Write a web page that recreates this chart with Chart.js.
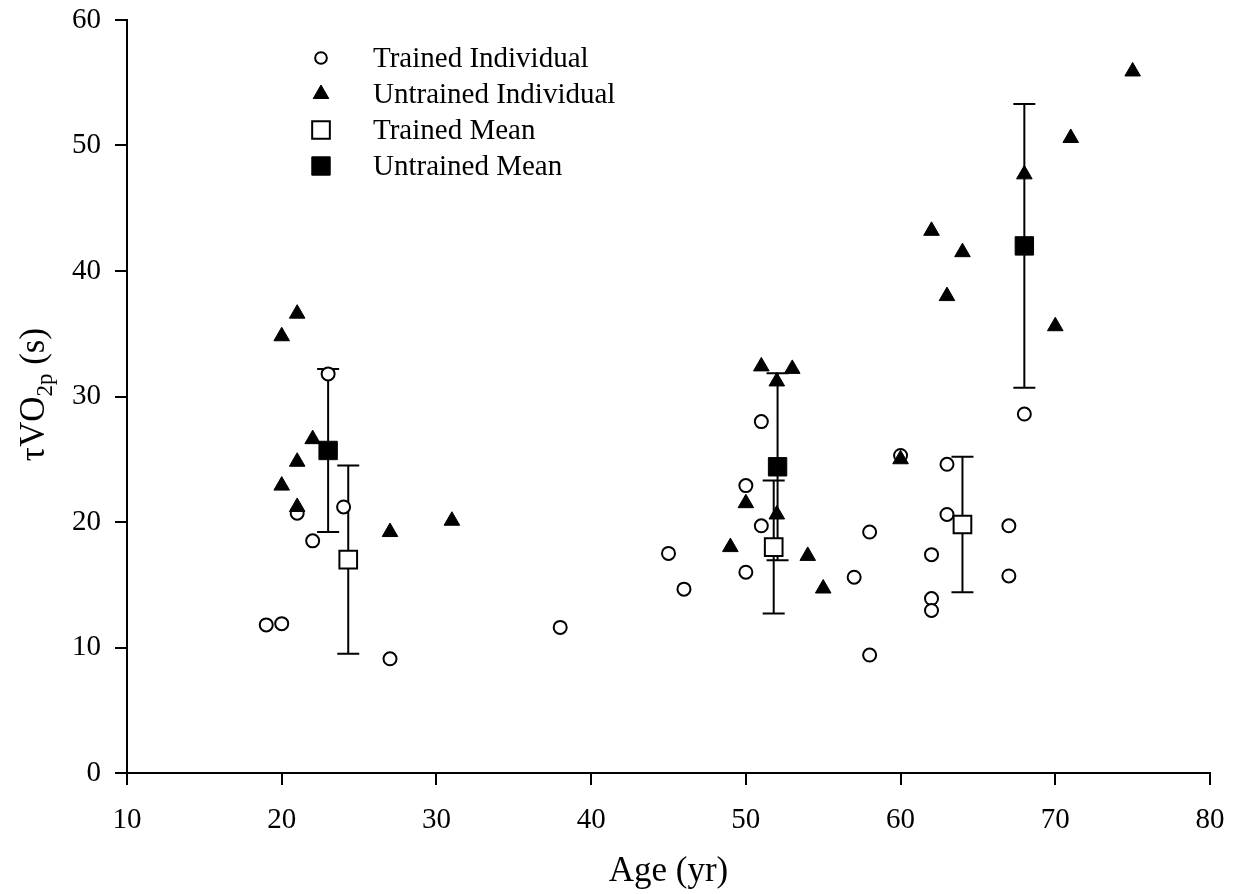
<!DOCTYPE html>
<html>
<head>
<meta charset="utf-8">
<script src="https://cdn.jsdelivr.net/npm/chart.js@4.4.1/dist/chart.umd.min.js"></script>
<style>
  body { margin: 0; background: #fff; }
  #wrap { width: 1236px; height: 894px; }
</style>
</head>
<body>
<div id="wrap"><canvas id="chart" width="1236" height="894"></canvas></div>
<script>
// individual subjects: age (yr) and tau VO2p (s)
const trainedAge = [19, 20, 21, 22, 23, 24, 27, 38, 45, 46, 50, 50, 51, 51, 57, 58, 58, 60, 62, 62, 62, 63, 63, 67, 67, 68];
const trainedTau = [11.8, 11.9, 20.7, 18.5, 31.8, 21.2, 9.1, 11.6, 17.5, 14.65, 22.9, 16.0, 28.0, 19.7, 15.6, 19.2, 9.4, 25.3, 17.4, 13.9, 12.95, 24.6, 20.6, 19.7, 15.7, 28.6];

const untrainedAge = [20, 21, 22, 21, 20, 21, 27, 31, 49, 50, 51, 52, 53, 52, 54, 55, 60, 62, 63, 64, 68, 70, 71, 75];
const untrainedTau = [34.8, 36.6, 26.6, 24.8, 22.9, 21.2, 19.2, 20.1, 18.0, 21.5, 32.4, 31.2, 32.2, 20.6, 17.3, 14.7, 25.0, 43.2, 38.0, 41.5, 47.7, 35.6, 50.6, 55.9];

// group means with SD
const trainedMeanAge = [24.3, 51.8, 64.0];
const trainedMeanTau = [17.0, 18.0, 19.8];
const trainedMeanSD = [7.5, 5.3, 5.4];

const untrainedMeanAge = [23.0, 52.05, 68.0];
const untrainedMeanTau = [25.7, 24.4, 42.0];
const untrainedMeanSD = [6.5, 7.45, 11.3];

const xRange = [10, 80];
const yRange = [0, 60];

const serif = 'Liberation Serif';

function pts(xs, ys) {
  return xs.map((x, i) => ({ x: x, y: ys[i] }));
}

const datasets = [
  {
    label: 'Trained Individual',
    data: pts(trainedAge, trainedTau),
    pointStyle: 'circle',
    pointRadius: 6.5,
    pointBorderWidth: 2,
    backgroundColor: '#fff',
    borderColor: '#000',
    order: 4
  },
  {
    label: 'Untrained Individual',
    data: pts(untrainedAge, untrainedTau),
    pointStyle: 'triangle',
    pointRadius: 9,
    pointBorderWidth: 1,
    backgroundColor: '#000',
    borderColor: '#000',
    order: 3
  },
  {
    label: 'Trained Mean',
    data: pts(trainedMeanAge, trainedMeanTau),
    sd: trainedMeanSD,
    pointStyle: 'rect',
    pointRadius: 12.5,
    pointBorderWidth: 2,
    backgroundColor: '#fff',
    borderColor: '#000',
    order: 2
  },
  {
    label: 'Untrained Mean',
    data: pts(untrainedMeanAge, untrainedMeanTau),
    sd: untrainedMeanSD,
    pointStyle: 'rect',
    pointRadius: 13,
    pointBorderWidth: 1,
    backgroundColor: '#000',
    borderColor: '#000',
    order: 1
  }
];

// SD whiskers, drawn under the points
const errorBars = {
  id: 'errorBars',
  beforeDatasetsDraw(chart) {
    const ctx = chart.ctx;
    const xs = chart.scales.x, ys = chart.scales.y;
    ctx.save();
    ctx.strokeStyle = '#000';
    ctx.lineWidth = 2;
    chart.data.datasets.forEach(ds => {
      if (!ds.sd) return;
      ds.data.forEach((p, i) => {
        const px = xs.getPixelForValue(p.x);
        const top = ys.getPixelForValue(p.y + ds.sd[i]);
        const bot = ys.getPixelForValue(p.y - ds.sd[i]);
        ctx.beginPath();
        ctx.moveTo(px, top); ctx.lineTo(px, bot);
        ctx.moveTo(px - 11, top); ctx.lineTo(px + 11, top);
        ctx.moveTo(px - 11, bot); ctx.lineTo(px + 11, bot);
        ctx.stroke();
      });
    });
    ctx.restore();
  }
};

// legend inside the plot, symbols on the left
const insideLegend = {
  id: 'insideLegend',
  afterDraw(chart) {
    const ctx = chart.ctx;
    const x0 = 321, y0 = 58, rowH = 36;
    ctx.save();
    ctx.font = '29px "' + serif + '"';
    ctx.textBaseline = 'middle';
    ctx.textAlign = 'left';
    chart.data.datasets.forEach((ds, i) => {
      const y = y0 + i * rowH;
      ctx.fillStyle = ds.backgroundColor;
      ctx.strokeStyle = ds.borderColor;
      ctx.lineWidth = ds.pointBorderWidth;
      Chart.helpers.drawPoint(ctx, {
        pointStyle: ds.pointStyle,
        radius: ds.pointRadius * (ds.pointStyle === 'circle' ? 0.9 : 1),
        rotation: 0,
        borderWidth: ds.pointBorderWidth
      }, x0, y);
      ctx.fillStyle = '#000';
      ctx.fillText(ds.label, 373, y + 1);
    });
    ctx.restore();
  }
};

// y title with subscript
const yTitle = {
  id: 'yTitle',
  afterDraw(chart) {
    const ctx = chart.ctx;
    const area = chart.chartArea;
    const big = '35px "' + serif + '"';
    const small = '23px "' + serif + '"';
    const parts = [['\u03C4VO', big, 0], ['2p', small, 8], [' (s)', big, 0]];
    ctx.save();
    let total = 0;
    parts.forEach(p => { ctx.font = p[1]; total += ctx.measureText(p[0]).width; });
    ctx.translate(44, (area.top + area.bottom) / 2 - 2);
    ctx.rotate(-Math.PI / 2);
    ctx.fillStyle = '#000';
    ctx.textBaseline = 'alphabetic';
    ctx.textAlign = 'left';
    let cx = -total / 2;
    parts.forEach(p => {
      ctx.font = p[1];
      ctx.fillText(p[0], cx, p[2]);
      cx += ctx.measureText(p[0]).width;
    });
    ctx.restore();
  }
};

const axisStyle = {
  border: { display: true, color: '#000', width: 2 },
  grid: { drawOnChartArea: false, drawTicks: true, tickLength: 12, color: '#000', lineWidth: 2 }
};

new Chart(document.getElementById('chart').getContext('2d'), {
  type: 'scatter',
  data: { datasets: datasets },
  options: {
    responsive: false,
    animation: false,
    events: [],
    layout: { padding: { top: 20, right: 26, bottom: 0, left: 0 } },
    plugins: {
      legend: { display: false },
      tooltip: { enabled: false }
    },
    scales: {
      x: {
        type: 'linear',
        min: xRange[0],
        max: xRange[1],
        border: axisStyle.border,
        grid: axisStyle.grid,
        ticks: {
          stepSize: 10,
          color: '#000',
          padding: 18,
          font: { family: serif, size: 29 }
        },
        title: {
          display: true,
          text: 'Age (yr)',
          color: '#000',
          font: { family: serif, size: 35 },
          padding: { top: 0, bottom: 1 }
        },
        afterFit(scale) {
          scale.height = 121;
          scale.paddingLeft = 0;
          scale.paddingRight = 0;
        }
      },
      y: {
        type: 'linear',
        min: yRange[0],
        max: yRange[1],
        border: axisStyle.border,
        grid: axisStyle.grid,
        ticks: {
          stepSize: 10,
          color: '#000',
          padding: 14,
          font: { family: serif, size: 29 }
        },
        afterFit(scale) {
          scale.width = 127;
          scale.paddingTop = 0;
          scale.paddingBottom = 0;
        }
      }
    }
  },
  plugins: [errorBars, insideLegend, yTitle]
});
</script>
</body>
</html>
